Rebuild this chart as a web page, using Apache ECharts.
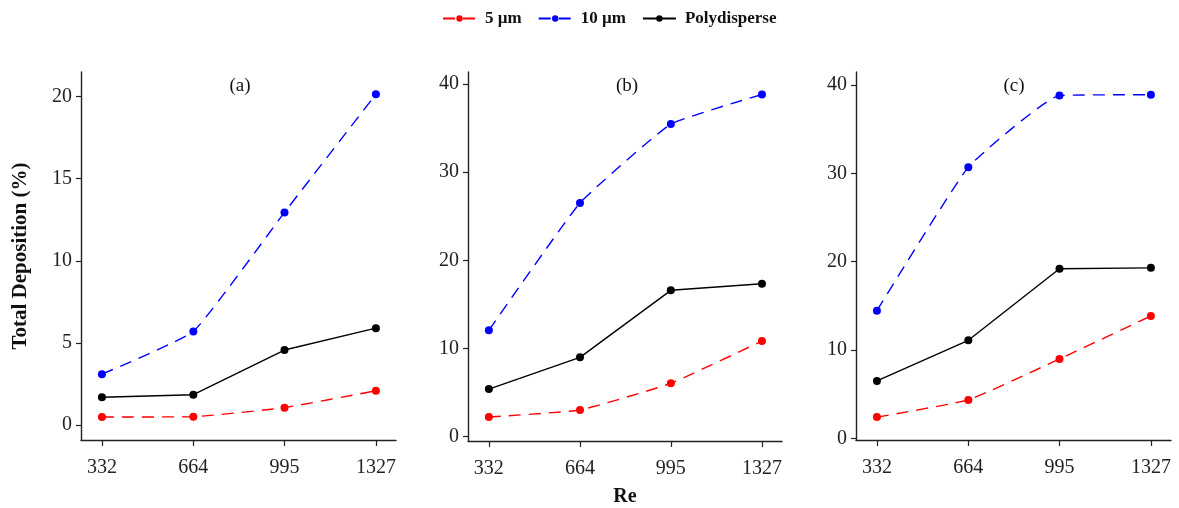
<!DOCTYPE html>
<html>
<head>
<meta charset="utf-8">
<script src="https://cdn.jsdelivr.net/npm/echarts@6/dist/echarts.min.js"></script>
<style>
  html, body { margin: 0; padding: 0; background: #fff; }
  #chart { width: 1179px; height: 508px; }
</style>
</head>
<body>
<div id="chart"></div>
<script>
const re = [332, 664, 995, 1327]

// panel (a)
const a5 = [0.49, 0.51, 1.06, 2.09]
const a10 = [3.1, 5.7, 12.95, 20.15]
const aPoly = [1.69, 1.85, 4.57, 5.9]
// panel (b)
const b5 = [2.23, 3.03, 6.05, 10.85]
const b10 = [12.06, 26.5, 35.45, 38.8]
const bPoly = [5.4, 9.0, 16.6, 17.35]
// panel (c)
const c5 = [2.4, 4.35, 8.98, 13.85]
const c10 = [14.45, 30.7, 38.8, 38.9]
const cPoly = [6.5, 11.1, 19.2, 19.3]

const panelLabels = ['(a)', '(b)', '(c)']
const yTicksA = [0, 5, 10, 15, 20]
const yTicksBC = [0, 10, 20, 30, 40]
const seriesNames = ['5 µm', '10 µm', 'Polydisperse']

const panels = [
	{ d5: a5, d10: a10, poly: aPoly, ticks: yTicksA, min: -0.91, max: 21.5 },
	{ d5: b5, d10: b10, poly: bPoly, ticks: yTicksBC, min: -0.49, max: 41.36 },
	{ d5: c5, d10: c10, poly: cPoly, ticks: yTicksBC, min: -0.19, max: 41.47 }
]

const gridBoxes = [
	{ left: 81, top: 72, width: 315, height: 368, outerBoundsMode: 'none' },
	{ left: 468, top: 72, width: 314, height: 369, outerBoundsMode: 'none' },
	{ left: 856, top: 72, width: 315, height: 368, outerBoundsMode: 'none' }
]
const labelX = [239, 626, 1013]

const chart = echarts.init(document.getElementById('chart'), null, { renderer: 'canvas' })

const axisLine = { show: true, onZero: false, lineStyle: { color: '#222', width: 1.4 } }
const axisTickStyle = { lineStyle: { color: '#222', width: 1.2 } }

const xAxis = panels.map((p, i) => ({
	type: 'value',
	gridIndex: i,
	min: 256,
	max: 1400,
	axisLine: axisLine,
	axisTick: { show: true, length: 6, customValues: re, ...axisTickStyle },
	axisLabel: { customValues: re, fontSize: 20, color: '#222', margin: 18, formatter: (v) => String(v) },
	splitLine: { show: false },
	name: i === 1 ? 'Re' : '',
	nameLocation: 'middle',
	nameGap: 46,
	nameTextStyle: { fontSize: 20, fontWeight: 'bold', color: '#111' }
}))

const yAxis = panels.map((p, i) => ({
	type: 'value',
	gridIndex: i,
	min: p.min,
	max: p.max,
	axisLine: axisLine,
	axisTick: { show: true, length: 5, customValues: p.ticks, ...axisTickStyle },
	axisLabel: { customValues: p.ticks, fontSize: 20, color: '#222', margin: 9, formatter: (v) => String(v) },
	splitLine: { show: false },
	name: i === 0 ? 'Total Deposition (%)' : '',
	nameLocation: 'middle',
	nameGap: 50,
	nameTextStyle: { fontSize: 21, fontWeight: 'bold', color: '#111' }
}))

const series = []
panels.forEach((p, i) => {
	const defs = [
		{ name: seriesNames[0], data: p.d5, color: '#ff0000', dashed: true },
		{ name: seriesNames[1], data: p.d10, color: '#0000ff', dashed: true },
		{ name: seriesNames[2], data: p.poly, color: '#000000', dashed: false }
	]
	defs.forEach((s) => {
		series.push({
			name: s.name,
			type: 'line',
			xAxisIndex: i,
			yAxisIndex: i,
			data: re.map((x, k) => [x, s.data[k]]),
			symbol: 'circle',
			symbolSize: 8,
			smooth: s.dashed ? 0.12 : false,
			itemStyle: { color: s.color },
			lineStyle: {
				color: s.color,
				width: 1.4,
				type: s.dashed ? [12, 8] : 'solid'
			}
		})
	})
})

const option = {
	animation: false,
	backgroundColor: '#fff',
	textStyle: { fontFamily: 'Liberation Serif' },
	title: panelLabels.map((t, i) => ({
		text: t,
		left: labelX[i] - 4,
		top: 72,
		textAlign: 'center',
		textStyle: { fontSize: 19, fontWeight: 'normal', color: '#111', fontFamily: 'Liberation Serif' }
	})),
	legend: {
		data: seriesNames,
		left: 437,
		top: 5,
		itemWidth: 33,
		itemHeight: 8,
		itemGap: 16,
		textStyle: { fontSize: 17, fontWeight: 'bold', color: '#111', padding: [0, 0, 0, 4] }
	},
	grid: gridBoxes,
	xAxis: xAxis,
	yAxis: yAxis,
	series: series
}

chart.setOption(option)
</script>
</body>
</html>
